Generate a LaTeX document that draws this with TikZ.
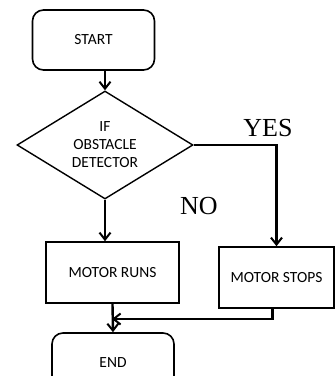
\documentclass[tikz,border=0pt]{standalone}
\usepackage{fontspec}
\setmainfont{Carlito}
\newfontfamily\labelfont{Liberation Serif}
\usetikzlibrary{positioning, shapes.geometric, arrows.meta}

\tikzset{
    term/.style={draw, line width=1.6pt, rounded corners=11pt, minimum width=122pt, minimum height=60pt, inner sep=0pt},
    proc/.style={draw, line width=1.6pt, minimum height=61pt, inner sep=0pt},
    decide/.style={draw, diamond, line width=1.4pt, aspect=1.63, minimum width=176pt, minimum height=108pt, inner sep=0pt, align=center},
    flow/.style={line width=2.4pt, -{Straight Barb[length=7pt, width=11pt, line width=2pt]}},
    branch/.style={font=\labelfont\fontsize{26}{28}\selectfont}
}

\begin{document}
\begin{tikzpicture}[x=1pt, y=-1pt, font=\fontsize{15.5}{18}\selectfont]
    \clip (0,0) rectangle (336,376);
    \useasboundingbox (0,0) rectangle (336,376);
        \node [term] (start) at (93.5,40) {START};
        \node [decide] (test) at (105,145) {IF\\OBSTACLE\\DETECTOR};
        \node [proc, minimum width=133pt] (runs) at (112.5,272.5) {MOTOR RUNS};
        \node [proc, minimum width=115pt] (stops) at (276.5,277.5) {MOTOR STOPS};
        \node [term] (stop) at (113,363) {END};
        \coordinate (join) at (112,319);
        \node [branch] (yes) at (268,128) {YES};
        \node [branch] (no) at (199,206) {NO};
        \draw [flow] (start.south -| test.north) -- (test.north);
        \draw [flow] (test.south) -- (test.south |- runs.north);
        \draw [flow] (test.east) -| (stops.north);
        \draw [flow] (runs.south) -- (stop.north);
        \draw [flow] ([xshift=-4pt]stops.south) |- (join);
    \end{tikzpicture}
\end{document}
